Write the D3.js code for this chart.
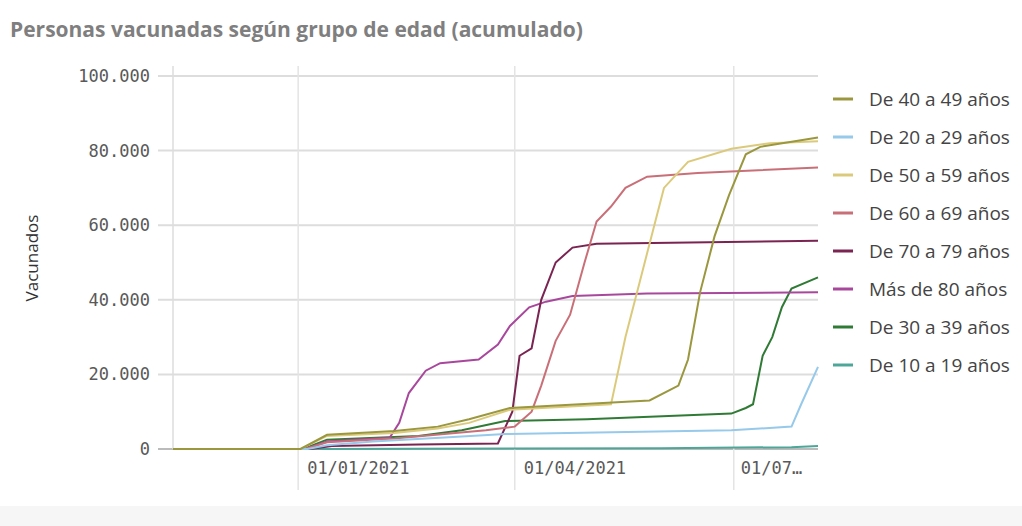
<!DOCTYPE html>
<html><head><meta charset="utf-8">
<script src="https://cdn.jsdelivr.net/npm/d3@7"></script>
<style>body{margin:0;background:#fff;}text{font-family:"DejaVu Sans Mono",monospace;}</style>
</head><body><svg id="c" width="1022" height="526"></svg>
<script>
var names = ["De 40 a 49 años","De 20 a 29 años","De 50 a 59 años","De 60 a 69 años","De 70 a 79 años","Más de 80 años","De 30 a 39 años","De 10 a 19 años"];
var colors = ["#9a973e","#96c9ea","#dcca7c","#c96f78","#7a2452","#a8489c","#2f7a35","#4da697"];
var yTicks = [0,20000,40000,60000,80000,100000];
var xTicks = ["2021-01-01","2021-04-01","2021-07-01"];
var xTickLabels = ["01/01/2021","01/04/2021","01/07…"];

var s40 = [["2020-11-10",0],["2021-01-02",0],["2021-01-13",3800],["2021-02-10",4800],["2021-02-28",6000],["2021-03-13",8000],["2021-03-30",11000],["2021-05-27",13000],["2021-06-08",17000],["2021-06-12",24000],["2021-06-17",42000],["2021-06-23",57000],["2021-06-29",68000],["2021-07-06",79000],["2021-07-12",81000],["2021-08-05",83500]];
var s20 = [["2020-11-10",0],["2021-01-05",0],["2021-01-13",1000],["2021-02-01",2000],["2021-03-01",3000],["2021-03-28",4000],["2021-06-30",5000],["2021-07-25",6000],["2021-07-29",12000],["2021-08-05",22000]];
var s50 = [["2020-11-10",0],["2021-01-02",0],["2021-01-13",3500],["2021-02-10",4300],["2021-02-28",5500],["2021-03-13",7000],["2021-03-30",10500],["2021-05-11",12000],["2021-05-13",18000],["2021-05-17",30000],["2021-05-23",45000],["2021-05-29",60000],["2021-06-02",70000],["2021-06-12",77000],["2021-06-30",80500],["2021-07-16",82000],["2021-08-05",82500]];
var s60 = [["2020-11-10",0],["2021-01-04",0],["2021-01-13",1800],["2021-02-10",2800],["2021-03-20",5000],["2021-04-01",6000],["2021-04-08",10000],["2021-04-12",17000],["2021-04-18",29000],["2021-04-24",36000],["2021-04-30",50000],["2021-05-05",61000],["2021-05-11",65000],["2021-05-17",70000],["2021-05-26",73000],["2021-06-16",74000],["2021-08-05",75500]];
var s70 = [["2020-11-10",0],["2021-01-06",0],["2021-01-15",800],["2021-02-20",1200],["2021-03-25",1500],["2021-03-31",10000],["2021-04-03",25000],["2021-04-08",27000],["2021-04-12",40000],["2021-04-18",50000],["2021-04-25",54000],["2021-05-05",55000],["2021-08-05",55800]];
var s80 = [["2020-11-10",0],["2021-01-04",0],["2021-01-13",2000],["2021-02-08",3000],["2021-02-12",7000],["2021-02-16",15000],["2021-02-23",21000],["2021-03-01",23000],["2021-03-17",24000],["2021-03-25",28000],["2021-03-30",33000],["2021-04-07",38000],["2021-04-14",39500],["2021-04-25",41000],["2021-05-26",41700],["2021-08-05",42000]];
var s30 = [["2020-11-10",0],["2021-01-03",0],["2021-01-13",2500],["2021-02-20",3500],["2021-03-10",5000],["2021-03-28",7500],["2021-05-01",8000],["2021-06-30",9500],["2021-07-06",11000],["2021-07-09",12000],["2021-07-13",25000],["2021-07-17",30000],["2021-07-21",38000],["2021-07-25",43000],["2021-08-05",46000]];
var s10 = [["2020-11-10",0],["2021-01-10",0],["2021-06-01",200],["2021-07-25",500],["2021-08-05",800]];
var series = [s40,s20,s50,s60,s70,s80,s30,s10];

var svg = d3.select("#c");
var parse = d3.timeParse("%Y-%m-%d");
var x = d3.scaleTime().domain([parse("2020-11-10"), parse("2021-08-05")]).range([173, 818]);
var y = d3.scaleLinear().domain([0,100000]).range([449,76]);
var fmt = function(v){ return d3.format(",")(v).replace(/,/g,"."); };

svg.append("rect").attr("x",0).attr("y",506).attr("width",1022).attr("height",20).attr("fill","#f6f6f6");
svg.append("text").attr("x",10).attr("y",37).attr("fill","#7f7f7f").style("font-family","'Open Sans', sans-serif")
  .style("font-weight","bold").style("font-size","21px").text("Personas vacunadas según grupo de edad (acumulado)");

svg.selectAll(".gy").data(yTicks).enter().append("line").attr("x1",158).attr("x2",818)
  .attr("y1",d=>y(d)).attr("y2",d=>y(d)).attr("stroke",d=>d===0?"#bbb":"#ddd").attr("stroke-width",2);
svg.selectAll(".gx").data(xTicks).enter().append("line").attr("x1",d=>x(parse(d))).attr("x2",d=>x(parse(d)))
  .attr("y1",66).attr("y2",490).attr("stroke","#e4e4e4").attr("stroke-width",1.5);
svg.append("line").attr("x1",173).attr("x2",173).attr("y1",66).attr("y2",449).attr("stroke","#ddd").attr("stroke-width",1.5);

svg.selectAll(".yl").data(yTicks).enter().append("text").attr("x",150).attr("y",d=>y(d)+6)
  .attr("text-anchor","end").attr("fill","#595959").style("font-size","17px").text(fmt);
svg.selectAll(".xl").data(xTicks).enter().append("text").attr("x",(d,i)=>i===2?x(parse(d))+7:x(parse(d))+9).attr("y",474)
  .attr("fill","#595959").style("font-size","17px").text((d,i)=>xTickLabels[i]);
svg.append("text").attr("transform","translate(38,258) rotate(-90)").attr("text-anchor","middle")
  .attr("fill","#333").style("font-family","'Open Sans', sans-serif").style("font-size","17px").text("Vacunados");

var line = d3.line().x(d=>x(parse(d[0]))).y(d=>y(d[1]));
for (var i = series.length-1; i >= 0; i--) {
  svg.append("path").attr("d",line(series[i])).attr("fill","none").attr("stroke",colors[i]).attr("stroke-width",2);
}

var lg = svg.selectAll(".lg").data(names).enter().append("g").attr("transform",(d,i)=>"translate(833,"+(99+i*38)+")");
lg.append("line").attr("x1",0).attr("x2",20).attr("stroke",(d,i)=>colors[i]).attr("stroke-width",3);
lg.append("text").attr("x",36).attr("y",7).attr("fill","#444").style("font-family","'Open Sans', sans-serif").style("font-size","19px").text(d=>d);
</script></body></html>
